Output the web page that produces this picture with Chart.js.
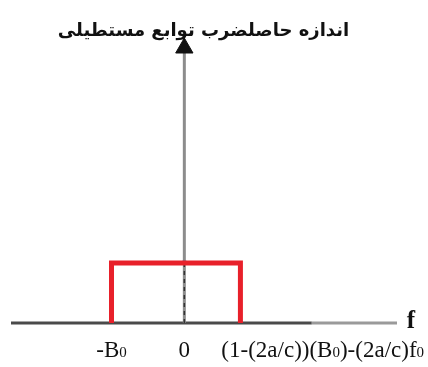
<!DOCTYPE html>
<html>
<head>
<meta charset="utf-8">
<script src="https://cdn.jsdelivr.net/npm/chart.js@4"></script>
<style>
  html, body { margin: 0; padding: 0; background: #fff; }
  #wrap { width: 428px; height: 367px; }
</style>
</head>
<body>
<div id="wrap"><canvas id="rectChart"></canvas></div>
<script>
// axis range (units of B0)
const xRange = [-2.38, 2.92];
const axisBreaks = [-2.38, 1.75, 2.92];
// rectangle: edges and height
const rectEdges = [-1, 0.77];
const rectHeight = 1;
// vertical arrow top
const arrowTop = 4.58;
// tick labels under the axis
const tickValues = [-1, 0, 1.9];
const tickLabels = ['-B₀', '0', '(1-(2a/c))(B₀)-(2a/c)f₀'];
const titleText = 'اندازه حاصلضرب توابع مستطیلی';
const axisName = 'f';

// draw a label, with ₀ drawn as a smaller 0
function drawLabel(ctx, text, cx, y) {
    const big = '23px "Liberation Serif"';
    const small = '15px "Liberation Serif"';
    const parts = text.split('₀');
    let runs = [];
    parts.forEach((p, i) => {
        if (p) runs.push({ t: p, f: big });
        if (i < parts.length - 1) runs.push({ t: '0', f: small });
    });
    let w = 0;
    runs.forEach(r => { ctx.font = r.f; r.w = ctx.measureText(r.t).width; w += r.w; });
    let x = cx - w / 2;
    ctx.textAlign = 'left';
    runs.forEach(r => {
        ctx.font = r.f;
        ctx.fillText(r.t, x, y);
        x += r.w;
    });
}

const labelPlugin = {
    id: 'axisLabels',
    afterDraw(chart) {
        const ctx = chart.ctx;
        const xs = chart.scales.x;
        const ys = chart.scales.y;
        const base = ys.getPixelForValue(0);
        ctx.save();
        ctx.fillStyle = '#111';
        ctx.textBaseline = 'alphabetic';
        tickValues.forEach((v, i) => {
            drawLabel(ctx, tickLabels[i], xs.getPixelForValue(v), base + 34);
        });
        ctx.font = 'bold 25px "Liberation Serif"';
        ctx.textAlign = 'center';
        ctx.fillText(axisName, xs.right + 14, base + 5);
        ctx.restore();
    }
};

let ctx = document.getElementById('rectChart');

new Chart(ctx, {
    type: 'line',
    data: {
        datasets: [
            {
                // horizontal axis
                data: axisBreaks.map(x => ({ x: x, y: 0 })),
                borderWidth: 3,
                pointRadius: 0,
                segment: {
                    borderColor: c => c.p0DataIndex === 0 ? '#4a4a4a' : '#9a9a9a'
                },
                clip: false,
                order: 3
            },
            {
                // vertical arrow
                data: [{ x: 0, y: 0 }, { x: 0, y: arrowTop }],
                borderColor: '#8c8c8c',
                borderWidth: 3,
                pointStyle: 'triangle',
                pointRadius: [0, 10],
                pointBackgroundColor: '#111',
                pointBorderColor: '#111',
                pointBorderWidth: 1,
                clip: false,
                order: 2
            },
            {
                // dashed part of the vertical line
                data: [{ x: 0, y: 0 }, { x: 0, y: rectHeight }],
                borderColor: '#333',
                borderWidth: 1.5,
                borderDash: [4, 4],
                pointStyle: 'rect',
                pointRadius: [0, 2],
                pointBackgroundColor: '#3a4aa8',
                pointBorderColor: '#3a4aa8',
                clip: false,
                order: 1
            },
            {
                // rectangle
                data: [
                    { x: rectEdges[0], y: 0 },
                    { x: rectEdges[0], y: rectHeight },
                    { x: rectEdges[1], y: rectHeight },
                    { x: rectEdges[1], y: 0 }
                ],
                borderColor: '#e8202a',
                borderWidth: 5,
                borderJoinStyle: 'miter',
                pointRadius: 0,
                clip: false,
                order: 0
            }
        ]
    },
    options: {
        responsive: true,
        maintainAspectRatio: false,
        animation: false,
        layout: { padding: { left: 10, right: 31, top: 0, bottom: 44 } },
        scales: {
            x: { type: 'linear', display: false, min: xRange[0], max: xRange[1] },
            y: { type: 'linear', display: false, min: 0, max: 4.67 }
        },
        plugins: {
            legend: { display: false },
            tooltip: { enabled: false },
            title: {
                display: true,
                text: titleText,
                color: '#111',
                font: { family: 'DejaVu Sans', size: 18, weight: 'bold' },
                padding: { top: 21, bottom: 0 }
            }
        }
    },
    plugins: [labelPlugin]
});
</script>
</body>
</html>
